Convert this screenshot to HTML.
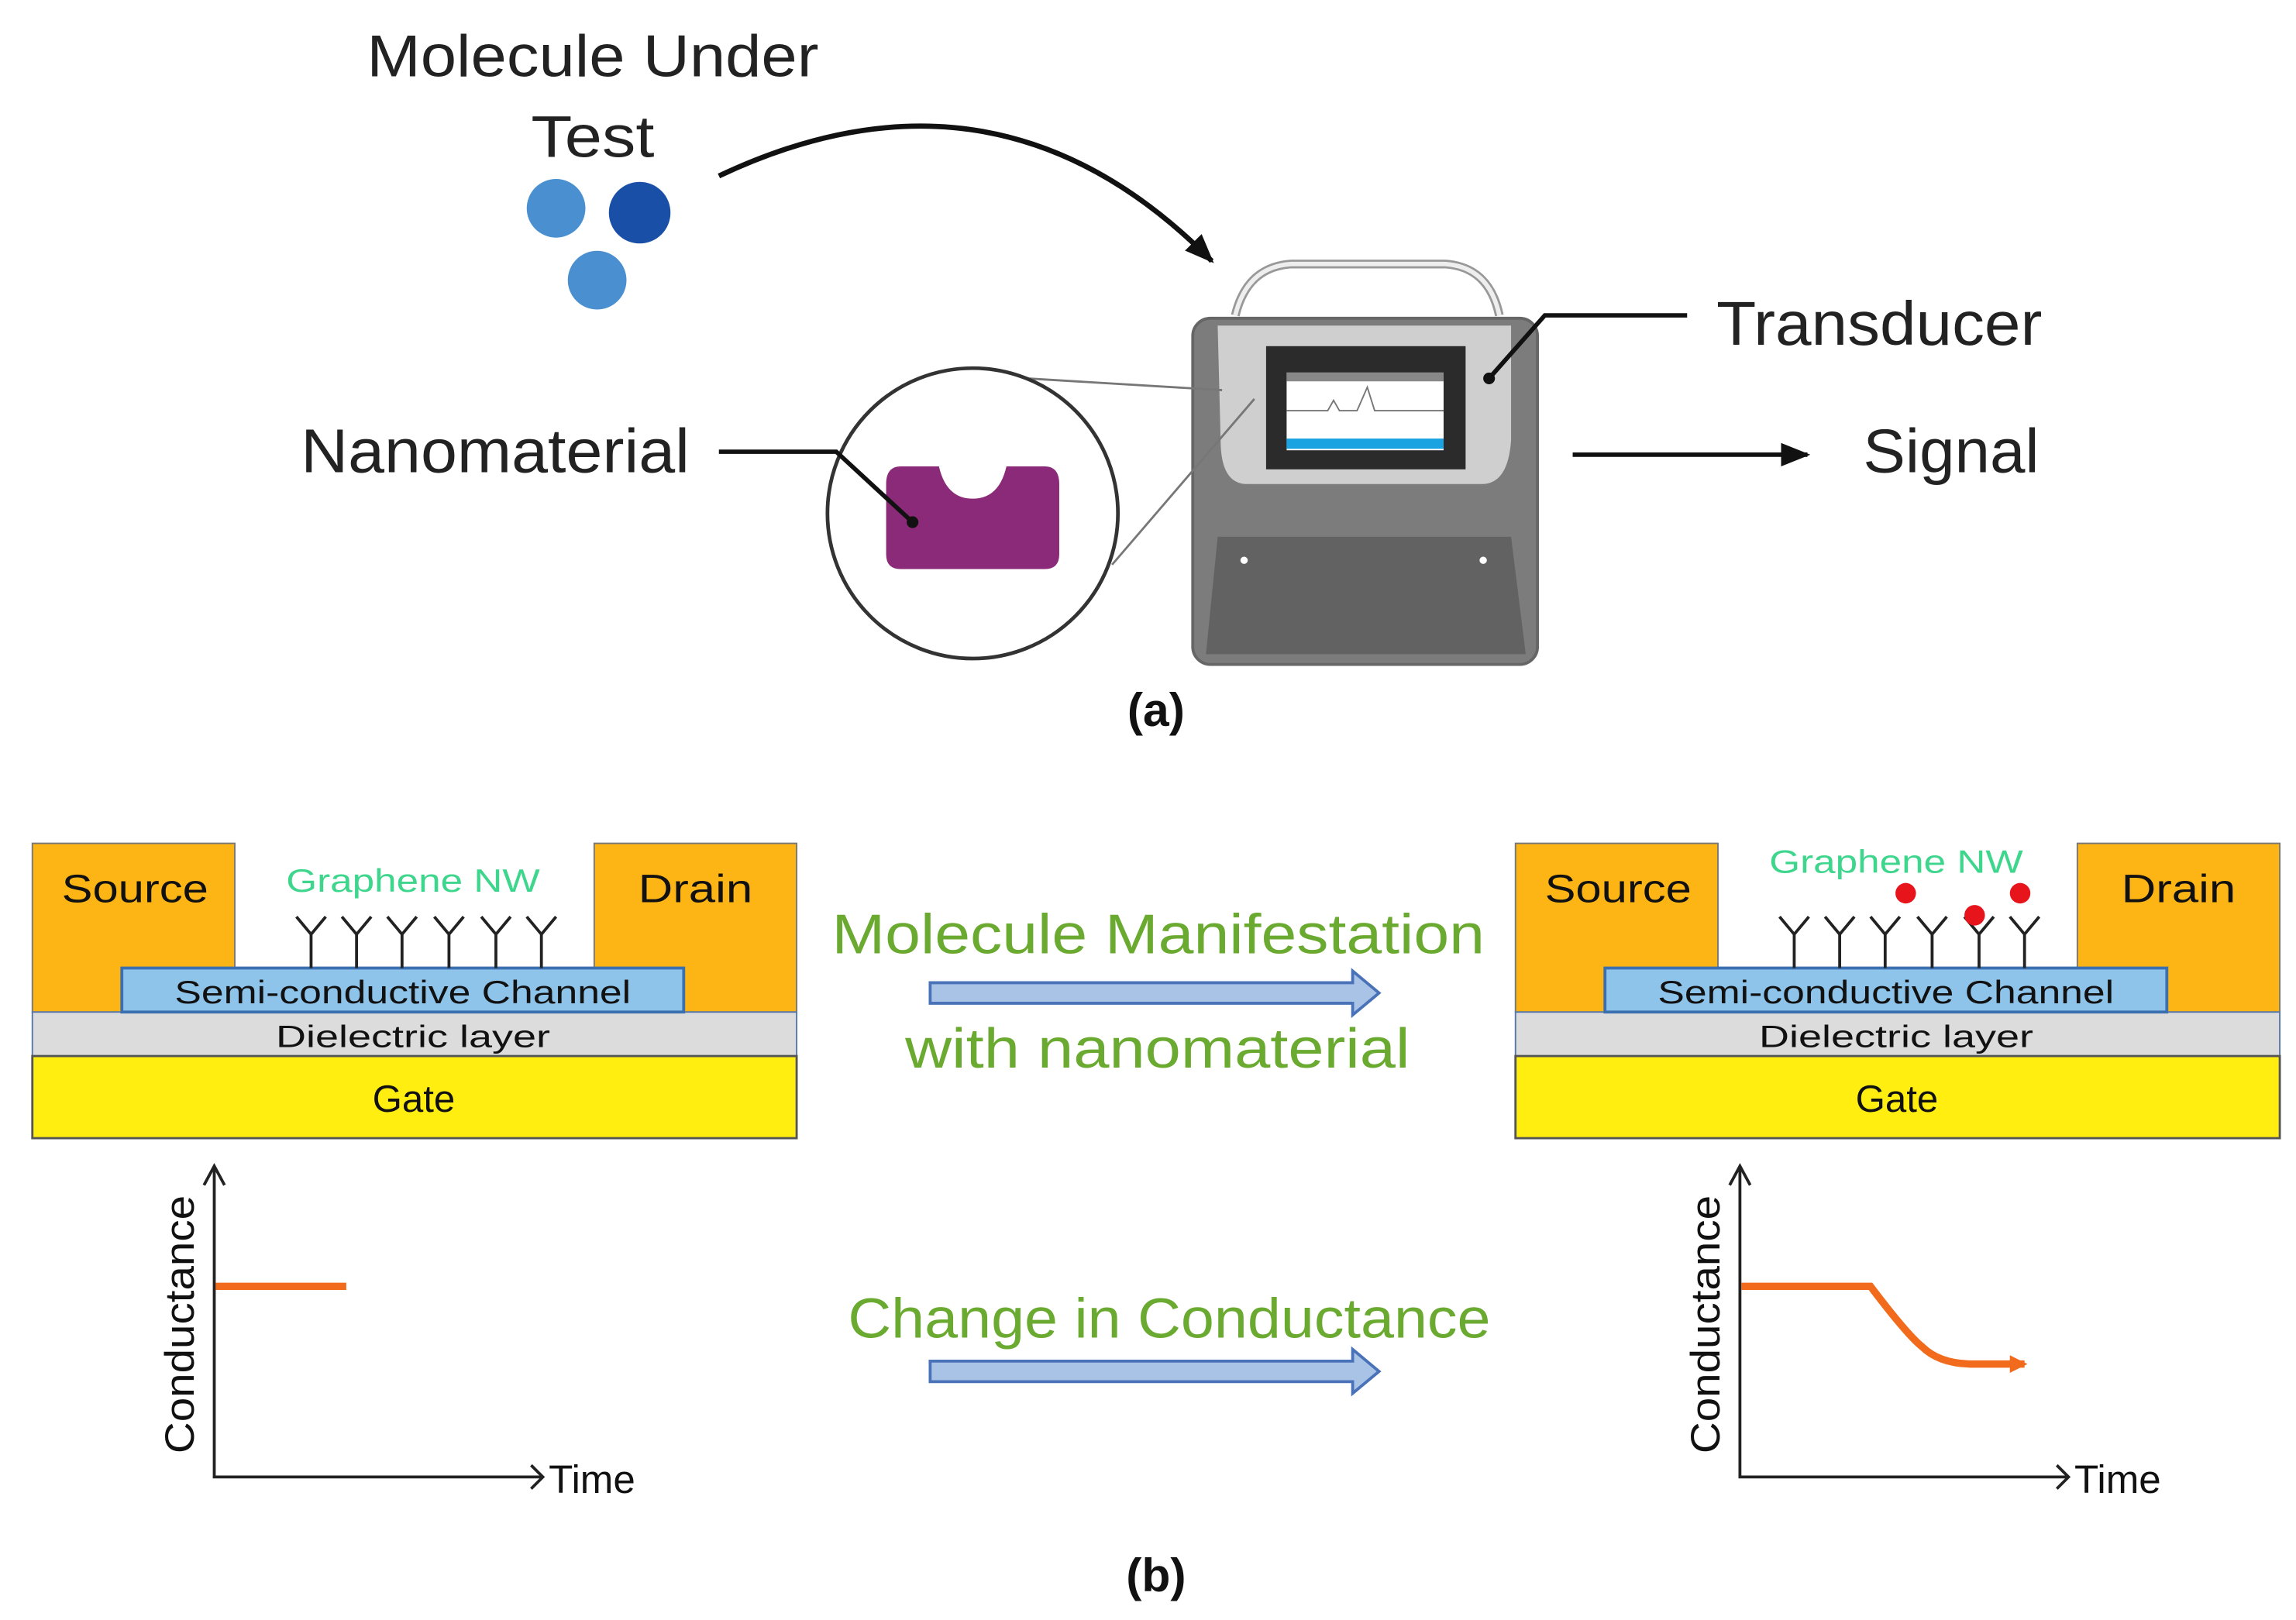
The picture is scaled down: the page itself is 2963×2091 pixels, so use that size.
<!DOCTYPE html>
<html><head><meta charset="utf-8"><style>
html,body{margin:0;padding:0;background:#fff;}
svg{display:block;}
text{font-family:"Liberation Sans",sans-serif;}
</style></head><body>
<svg width="2963" height="2091" viewBox="0 0 1565 1104.5" xmlns="http://www.w3.org/2000/svg">
<defs>
<marker id="ah2" markerWidth="22" markerHeight="22" refX="18" refY="11" orient="auto" markerUnits="userSpaceOnUse"><path d="M0,3 L20,11 L0,19 Z" fill="#111"/></marker>
<marker id="oa" markerWidth="14" markerHeight="14" refX="10" refY="7" orient="auto" markerUnits="userSpaceOnUse"><path d="M0,1 L12,7 L0,13 Z" fill="#f26b1d"/></marker>
</defs>
<rect width="1565" height="1104.5" fill="#fff"/>

<!-- (a) -->
<text x="250" y="52" font-size="40" textLength="308" lengthAdjust="spacingAndGlyphs" fill="#222">Molecule Under</text>
<text x="362" y="107" font-size="40" textLength="84" lengthAdjust="spacingAndGlyphs" fill="#222">Test</text>
<circle cx="379" cy="142" r="20" fill="#4a90d0"/>
<circle cx="436" cy="145" r="21" fill="#1a4fa8"/>
<circle cx="407" cy="191" r="20" fill="#4a90d0"/>
<path d="M490,120 Q680,30 826,178" fill="none" stroke="#111" stroke-width="3.5" marker-end="url(#ah2)"/>

<!-- device -->
<path d="M842,215 Q850,182 880,180 L985,180 Q1015,182 1022,215" fill="none" stroke="#999" stroke-width="6"/>
<path d="M842,215 Q850,182 880,180 L985,180 Q1015,182 1022,215" fill="none" stroke="#eee" stroke-width="3"/>
<rect x="813" y="217" width="235" height="236" rx="12" fill="#7c7c7c" stroke="#666" stroke-width="2"/>
<path d="M830,222 L1030,222 L1030,300 Q1028,330 1010,330 L850,330 Q832,330 832,300 Z" fill="#cfcfcf"/>
<rect x="863" y="236" width="136" height="84" fill="#2b2b2b"/>
<rect x="877" y="254" width="107" height="53" fill="#fff"/>
<rect x="877" y="254" width="107" height="6" fill="#888"/>
<rect x="877" y="299" width="107" height="7" fill="#1aa3e0"/>
<path d="M877,280 L905,280 L909,273 L913,280 L925,280 L932,264 L937,280 L984,280" fill="none" stroke="#777" stroke-width="1"/>
<path d="M830,366 L1030,366 L1040,446 L822,446 Z" fill="#626262"/>
<circle cx="848" cy="382" r="2.5" fill="#fff"/>
<circle cx="1011" cy="382" r="2.5" fill="#fff"/>
<polyline points="1150,215 1053,215 1015,258" fill="none" stroke="#111" stroke-width="3"/>
<circle cx="1015" cy="258" r="4" fill="#111"/>
<text x="1170" y="235" font-size="42" textLength="222" lengthAdjust="spacingAndGlyphs" fill="#222">Transducer</text>
<line x1="1072" y1="310" x2="1232" y2="310" stroke="#111" stroke-width="3" marker-end="url(#ah2)"/>
<text x="1270" y="322" font-size="42" textLength="120" lengthAdjust="spacingAndGlyphs" fill="#222">Signal</text>

<!-- nanomaterial -->
<text x="205" y="322" font-size="42" textLength="265" lengthAdjust="spacingAndGlyphs" fill="#222">Nanomaterial</text>
<line x1="700" y1="258" x2="833" y2="266" stroke="#777" stroke-width="1.5"/>
<line x1="758" y1="385" x2="855" y2="272" stroke="#777" stroke-width="1.5"/>
<circle cx="663" cy="350" r="99" fill="#fff" stroke="#333" stroke-width="2.5"/>
<path d="M614,318 L640,318 Q645,340 663,340 Q681,340 686,318 L712,318 Q722,318 722,330 L722,378 Q722,388 712,388 L614,388 Q604,388 604,378 L604,330 Q604,318 614,318 Z" fill="#8a2a78"/>
<polyline points="490,308 570,308 622,356" fill="none" stroke="#111" stroke-width="3"/>
<circle cx="622" cy="356" r="4" fill="#111"/>
<text x="788" y="495" font-size="32" font-weight="bold" text-anchor="middle" fill="#111">(a)</text>

<!-- (b) left FET -->
<g id="fet">
<rect x="22" y="575" width="138" height="115" fill="#fdb515" stroke="#777" stroke-width="1"/>
<rect x="405" y="575" width="138" height="115" fill="#fdb515" stroke="#777" stroke-width="1"/>
<rect x="22" y="690" width="521" height="30" fill="#dcdcdc" stroke="#5577aa" stroke-width="1"/>
<rect x="22" y="720" width="521" height="56" fill="#ffee10" stroke="#555" stroke-width="1.5"/>
<rect x="83" y="660" width="383" height="30" fill="#8ec3ea" stroke="#3a6fb0" stroke-width="2"/>
<text x="42" y="615" font-size="27" textLength="100" lengthAdjust="spacingAndGlyphs" fill="#111">Source</text>
<text x="435" y="615" font-size="27" textLength="78" lengthAdjust="spacingAndGlyphs" fill="#111">Drain</text>
<text x="119" y="684" font-size="22" textLength="311" lengthAdjust="spacingAndGlyphs" fill="#111">Semi-conductive Channel</text>
<text x="188" y="714" font-size="21" textLength="187" lengthAdjust="spacingAndGlyphs" fill="#111">Dielectric layer</text>
<text x="282" y="758" font-size="26" text-anchor="middle" fill="#111">Gate</text>
<g stroke="#222" stroke-width="2" fill="none">
<path d="M212,660 V637 M202,625 L212,637 L222,625"/>
<path d="M243,660 V637 M233,625 L243,637 L253,625"/>
<path d="M274,660 V637 M264,625 L274,637 L284,625"/>
<path d="M306,660 V637 M296,625 L306,637 L316,625"/>
<path d="M338,660 V637 M328,625 L338,637 L348,625"/>
<path d="M369,660 V637 M359,625 L369,637 L379,625"/>
</g>
</g>
<text x="195" y="608" font-size="22" textLength="173" lengthAdjust="spacingAndGlyphs" fill="#3dd68c">Graphene NW</text>
<use href="#fet" x="1011"/>
<text x="1206" y="595" font-size="22" textLength="173" lengthAdjust="spacingAndGlyphs" fill="#3dd68c">Graphene NW</text>
<circle cx="1299" cy="609" r="7" fill="#e8141c"/>
<circle cx="1346" cy="624" r="7" fill="#e8141c"/>
<circle cx="1377" cy="609" r="7" fill="#e8141c"/>

<!-- middle -->
<text x="567" y="650" font-size="38" textLength="445" lengthAdjust="spacingAndGlyphs" fill="#6aaa30">Molecule Manifestation</text>
<path d="M634,670 L922,670 L922,662 L940,677 L922,692 L922,684 L634,684 Z" fill="#a9c3e6" stroke="#4a72b8" stroke-width="2"/>
<text x="617" y="728" font-size="38" textLength="344" lengthAdjust="spacingAndGlyphs" fill="#6aaa30">with nanomaterial</text>
<text x="578" y="912" font-size="38" textLength="438" lengthAdjust="spacingAndGlyphs" fill="#6aaa30">Change in Conductance</text>
<path d="M634,928 L922,928 L922,920 L940,935 L922,950 L922,942 L634,942 Z" fill="#a9c3e6" stroke="#4a72b8" stroke-width="2"/>

<!-- graphs -->
<g stroke="#222" stroke-width="2" fill="none">
<polyline points="146,795 146,1007 370,1007"/>
<path d="M139,808 L146,795 L153,808 M362,999 L370,1007 L362,1015"/>
<polyline points="1186,795 1186,1007 1410,1007"/>
<path d="M1179,808 L1186,795 L1193,808 M1402,999 L1410,1007 L1402,1015"/>
</g>
<text transform="translate(132,903) rotate(-90)" font-size="28" textLength="176" lengthAdjust="spacingAndGlyphs" text-anchor="middle" fill="#111">Conductance</text>
<text transform="translate(1172,903) rotate(-90)" font-size="28" textLength="176" lengthAdjust="spacingAndGlyphs" text-anchor="middle" fill="#111">Conductance</text>
<text x="374" y="1018" font-size="27" fill="#111">Time</text>
<text x="1414" y="1018" font-size="27" fill="#111">Time</text>
<line x1="147" y1="877" x2="236" y2="877" stroke="#f26b1d" stroke-width="5"/>
<path d="M1187,877 L1275,877 Q1300,910 1310,918 Q1322,930 1345,930 L1380,930" fill="none" stroke="#f26b1d" stroke-width="5" marker-end="url(#oa)"/>
<text x="788" y="1085" font-size="32" font-weight="bold" text-anchor="middle" fill="#111">(b)</text>
</svg>
</body></html>
